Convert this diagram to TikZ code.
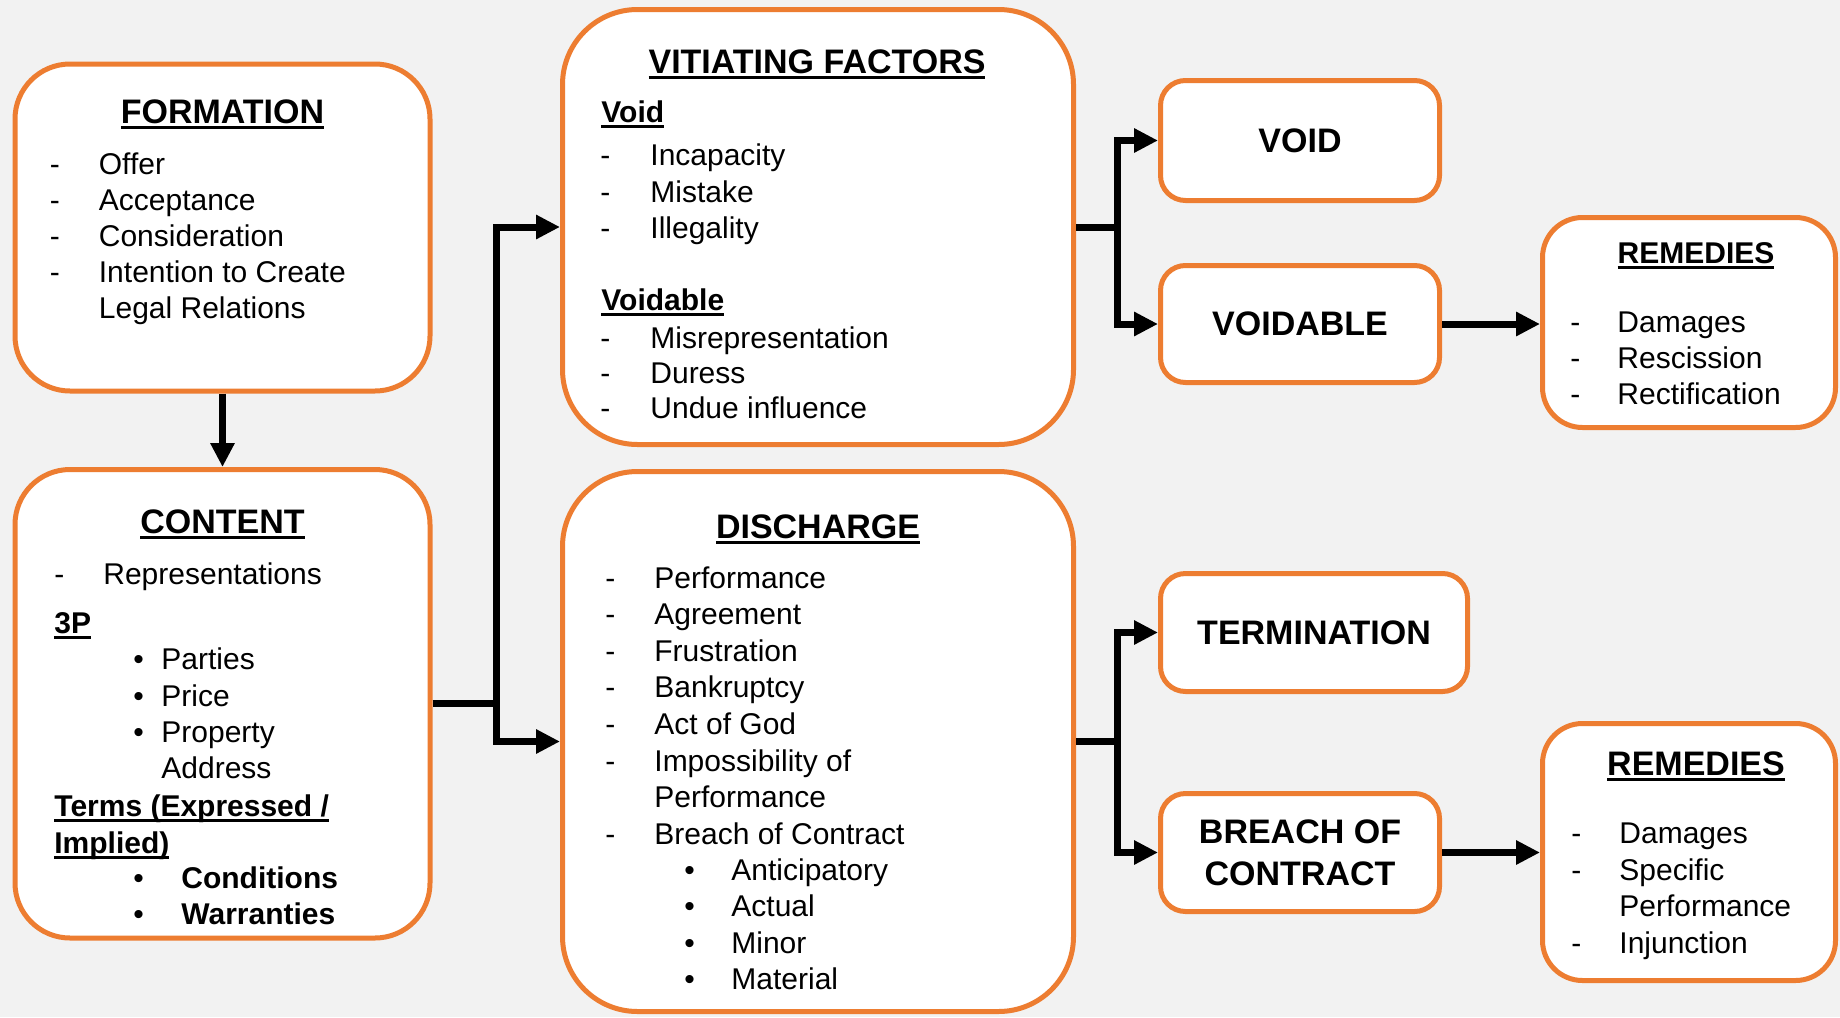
\documentclass[tikz,border=0pt]{standalone}
\usepackage{fontspec}
\setmainfont{Liberation Sans}
\usetikzlibrary{arrows.meta}
\definecolor{boxorange}{HTML}{ED7D31}
\definecolor{backdrop}{HTML}{F2F2F2}

% underlined heading text: a rule 1.6pt--3pt below the baseline
\newsavebox{\ulinedbox}
\newcommand{\ulined}[1]{%
  \sbox{\ulinedbox}{#1}%
  \rlap{\rule[-3pt]{\wd\ulinedbox}{1.4pt}}\usebox{\ulinedbox}}

\tikzset{
  panel/.style={draw=boxorange, line width=2.5pt, fill=white, rectangle, inner sep=0pt},
  tag/.style={panel, rounded corners=12.5pt, align=center,
    font=\fontsize{17}{21}\selectfont\bfseries},
  body/.style={inner sep=0pt, anchor=base west, font=\fontsize{15}{18}\selectfont},
  subhead/.style={body, font=\fontsize{15}{18}\selectfont\bfseries},
  heading/.style={inner sep=0pt, anchor=base, font=\fontsize{17}{20}\selectfont\bfseries},
  link/.style={line width=3.5pt, line join=miter},
  arrowlink/.style={link, -{Triangle[length=12pt,width=11.5pt]}},
}

\begin{document}
\begin{tikzpicture}[x=0.5pt,y=-0.5pt]
% page background
\path[fill=backdrop] (0,0) rectangle (1840,1017);
\useasboundingbox (0,0) rectangle (1840,1017);

% ---------- panels ----------
\node[panel, rounded corners=27.5pt, minimum width=207.5pt, minimum height=163.5pt]
  (formation) at (222.5,227.5) {};
\node[panel, rounded corners=27.5pt, minimum width=207.5pt, minimum height=234.25pt]
  (content) at (222.5,703.75) {};
\node[panel, rounded corners=37.5pt, minimum width=255.5pt, minimum height=217.5pt]
  (vitiating) at (818,227) {};
\node[panel, rounded corners=37.5pt, minimum width=255.5pt, minimum height=270pt]
  (discharge) at (818,741.5) {};
\node[panel, rounded corners=20pt, minimum width=146.5pt, minimum height=105pt]
  (rem1) at (1689,322.5) {};
\node[panel, rounded corners=20pt, minimum width=146.5pt, minimum height=128.5pt]
  (rem2) at (1689,852) {};

\node[tag, minimum width=139.5pt, minimum height=60pt] (void) at (1300,140.5) {VOID};
\node[tag, minimum width=139.5pt, minimum height=58.5pt] (voidable) at (1300,324) {VOIDABLE};
\node[tag, minimum width=153.5pt, minimum height=59pt] (termination) at (1314,632.5) {TERMINATION};
\node[tag, minimum width=139.5pt, minimum height=59pt] (breach) at (1300,852.5) {BREACH OF\\CONTRACT};

% ---------- connectors ----------
\coordinate (trunkL) at (496,0);
\coordinate (trunkR) at (1117,0);

\draw[arrowlink] (formation.south) -- (content.north);

\coordinate (jc) at (content.east -| trunkL);
\draw[link] (content.east) -- (jc);
\draw[arrowlink] (jc) |- (vitiating.west);
\draw[arrowlink] (jc) |- (discharge.west);

\coordinate (jv) at (vitiating.east -| trunkR);
\draw[link] (vitiating.east) -- (jv);
\draw[arrowlink] (jv) |- (void.west);
\draw[arrowlink] (jv) |- (voidable.west);

\coordinate (jd) at (discharge.east -| trunkR);
\draw[link] (discharge.east) -- (jd);
\draw[arrowlink] (jd) |- (termination.west);
\draw[arrowlink] (jd) |- (breach.west);

\draw[arrowlink] (voidable.east) -- (voidable.east -| rem1.west);
\draw[arrowlink] (breach.east) -- (breach.east -| rem2.west);

% ---------- FORMATION ----------
\node[heading] (formation-title) at (222.5,123) {\ulined{FORMATION}};
\foreach \lbl [count=\i from 0] in {Offer,Acceptance,Consideration,Intention to Create}{
  \node[body] (formation-dash-\i) at (49.5,174+36*\i) {-};
  \node[body] (formation-item-\i) at (98.5,174+36*\i) {\lbl};
}
\node[body] (formation-item-4) at (98.5,318) {Legal Relations};

% ---------- CONTENT ----------
\node[heading] (content-title) at (222.5,533) {\ulined{CONTENT}};
\node[body] (content-dash) at (54,584) {-};
\node[body] (content-rep) at (103,584) {Representations};
\node[subhead] (content-3p) at (54,633) {\ulined{3P}};
\foreach \lbl/\yy [count=\i] in {Parties/669, Price/706, Property/742}{
  \node[body] (content-bullet-\i) at (133,\yy) {\textbullet};
  \node[body] (content-p-\i) at (161,\yy) {\lbl};
}
\node[body] (content-p-4) at (161,778) {Address};
\node[subhead] (content-terms) at (54,816) {\ulined{Terms (Expressed /}};
\node[subhead] (content-implied) at (54,853) {\ulined{Implied)}};
\foreach \lbl/\yy [count=\i] in {Conditions/888, Warranties/924}{
  \node[body] (content-tbullet-\i) at (133,\yy) {\textbullet};
  \node[subhead] (content-term-\i) at (181,\yy) {\lbl};
}

% ---------- VITIATING FACTORS ----------
\node[heading] (vit-title) at (817,73) {\ulined{VITIATING FACTORS}};
\node[subhead] (vit-void) at (601,122) {\ulined{Void}};
\foreach \lbl/\yy [count=\i] in {Incapacity/165, Mistake/202, Illegality/238}{
  \node[body] (vit-void-dash-\i) at (600,\yy) {-};
  \node[body] (vit-void-item-\i) at (650,\yy) {\lbl};
}
\node[subhead] (vit-voidable) at (601,310) {\ulined{Voidable}};
\foreach \lbl/\yy [count=\i] in {Misrepresentation/348, Duress/383, Undue influence/418}{
  \node[body] (vit-vd-dash-\i) at (600,\yy) {-};
  \node[body] (vit-vd-item-\i) at (650,\yy) {\lbl};
}

% ---------- DISCHARGE ----------
\node[heading] (dis-title) at (818,538) {\ulined{DISCHARGE}};
\foreach \lbl [count=\i from 0] in {Performance,Agreement,Frustration,Bankruptcy,Act of God,Impossibility of}{
  \node[body] (dis-dash-\i) at (605,588+36.6*\i) {-};
  \node[body] (dis-item-\i) at (654,588+36.6*\i) {\lbl};
}
\node[body] (dis-item-6) at (654,807.6) {Performance};
\node[body] (dis-dash-7) at (605,844.2) {-};
\node[body] (dis-item-7) at (654,844.2) {Breach of Contract};
\foreach \lbl/\yy [count=\i] in {Anticipatory/880, Actual/916, Minor/953, Material/989}{
  \node[body] (dis-bullet-\i) at (684,\yy) {\textbullet};
  \node[body] (dis-sub-\i) at (731,\yy) {\lbl};
}

% ---------- REMEDIES (voidable) ----------
\node[heading, font=\fontsize{15}{18}\selectfont\bfseries] (rem1-title) at (1696,263) {\ulined{REMEDIES}};
\foreach \lbl/\yy [count=\i] in {Damages/332, Rescission/368, Rectification/404}{
  \node[body] (rem1-dash-\i) at (1570,\yy) {-};
  \node[body] (rem1-item-\i) at (1617,\yy) {\lbl};
}

% ---------- REMEDIES (breach) ----------
\node[heading] (rem2-title) at (1696,775) {\ulined{REMEDIES}};
\foreach \lbl/\yy [count=\i] in {Damages/843, Specific/880, Injunction/953}{
  \node[body] (rem2-dash-\i) at (1571,\yy) {-};
  \node[body] (rem2-item-\i) at (1619,\yy) {\lbl};
}
\node[body] (rem2-item-4) at (1619,916) {Performance};
\end{tikzpicture}
\end{document}
